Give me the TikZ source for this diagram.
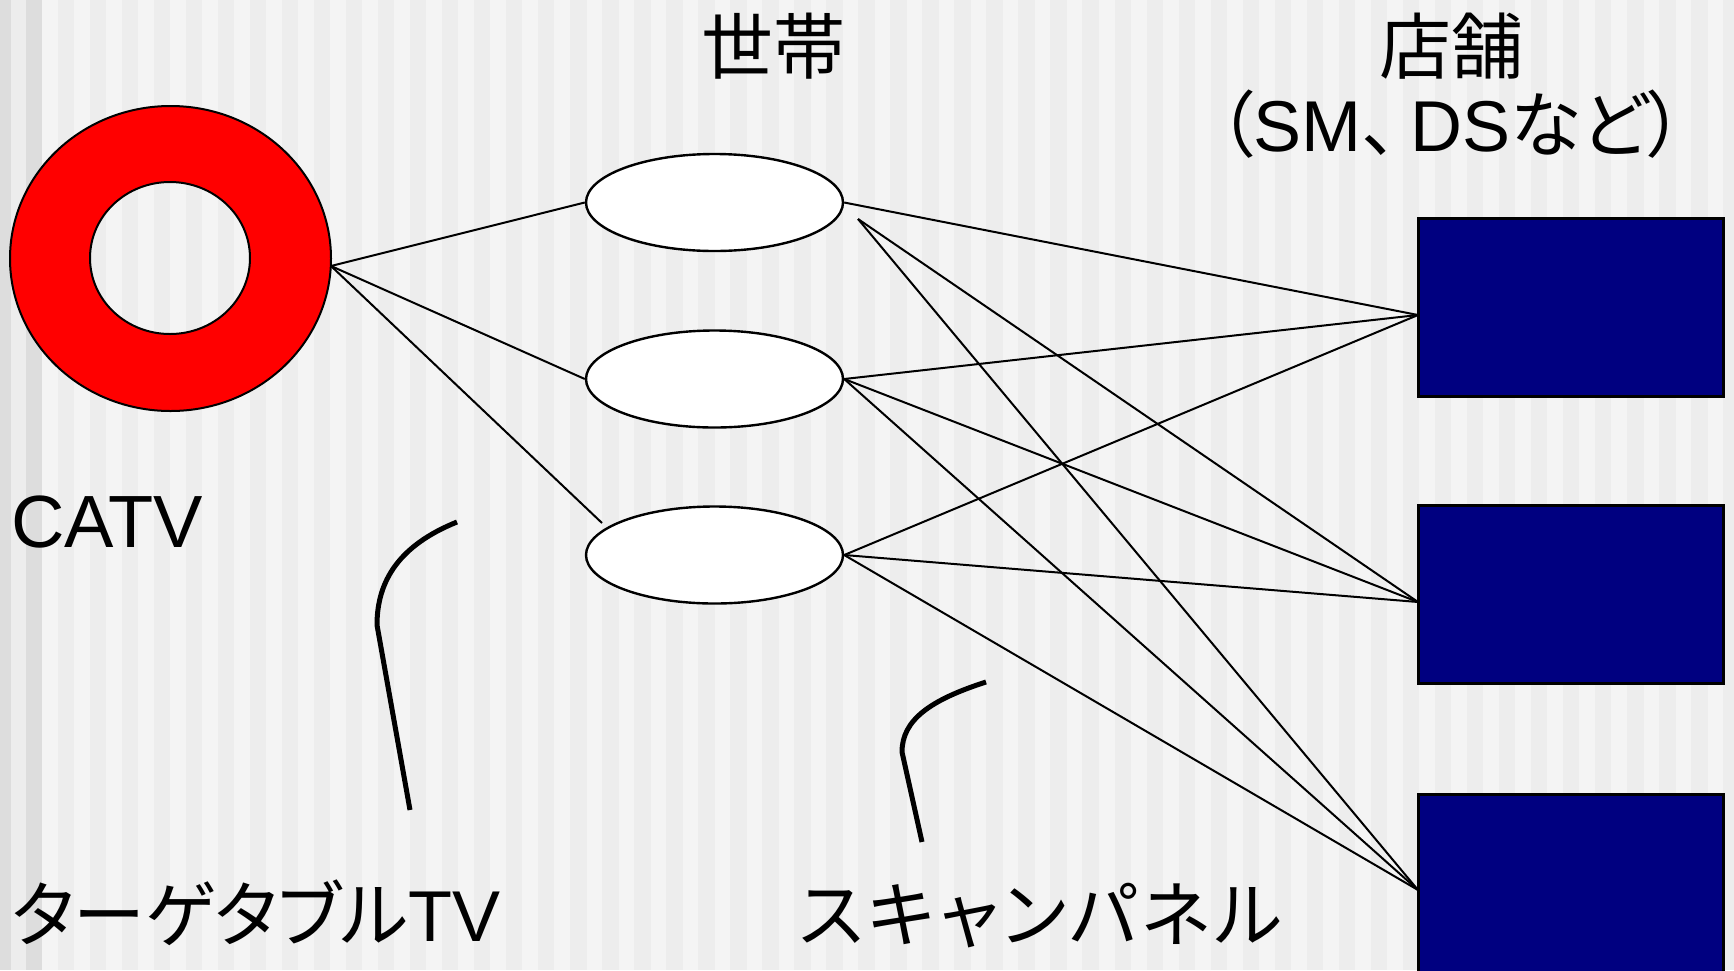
\documentclass[tikz,border=0pt]{standalone}
\usepackage{fontspec}
\setmainfont{Liberation Sans}
\newfontfamily\jp[RawFeature=+palt]{Noto Sans CJK JP}
\newfontfamily\jpw[RawFeature=+palt,LetterSpace=5.5]{Noto Sans CJK JP}
\usetikzlibrary{shapes.geometric,calc}
\definecolor{stripeA}{HTML}{F4F4F4}
\definecolor{stripeB}{HTML}{EDEDED}
\definecolor{stripeC}{HTML}{DDDDDD}
\definecolor{navyfill}{HTML}{000080}
\begin{document}
\begin{tikzpicture}[x=0.5pt,y=-0.5pt,
  conn/.style={line width=1pt},
  house/.style={ellipse, draw, line width=1.2pt, fill=white, minimum width=128.5pt, minimum height=48.5pt, inner sep=0pt},
  store/.style={rectangle, draw, line width=1.5pt, fill=navyfill, minimum width=152.5pt, minimum height=89pt, inner sep=0pt},
  callout/.style={line width=2.5pt},
  lbl/.style={inner sep=0pt, font=\fontsize{36pt}{39pt}\selectfont}]
\useasboundingbox (0,0) rectangle (1734,970);
% background stripes
\fill[stripeB] (0,0) rectangle (1734,970);
\foreach \i in {0,...,52} \fill[stripeA] ({42+32.03*\i},0) rectangle ({57.5+32.03*\i},970);
\fill[stripeC] (0,0) rectangle (11,970);
\fill[stripeC] (26,0) rectangle (42,970);
% CATV donut
\path[fill=red, draw, line width=1pt, even odd rule]
  (170.5,258.5) ellipse [x radius=160.5, y radius=152.5]
  (170,258) ellipse [x radius=80, y radius=76];
\coordinate (catv) at (331,266);
% households
\node[house] (e1) at (714.5,202.5) {};
\node[house] (e2) at (714.5,379) {};
\node[house] (e3) at (714.5,555) {};
% stores
\node[store] (r1) at (1570.5,307) {};
\node[store] (r2) at (1570.5,594.5) {};
\node[store] (r3) at (1570.5,883) {};
\coordinate (r1p) at (1418,315);
\coordinate (r2p) at (1418,602);
\coordinate (r3p) at (1418,890);
\coordinate (p1) at (858,219);
\coordinate (p2) at (602,523);
% connectors
\draw[conn] (catv) -- (e1.west);
\draw[conn] (catv) -- (e2.west);
\draw[conn] (catv) -- (p2);
\draw[conn] (e1.east) -- (r1p);
\draw[conn] (p1) -- (r2p);
\draw[conn] (p1) -- (r3p);
\draw[conn] (e2.east) -- (r1p);
\draw[conn] (e2.east) -- (r2p);
\draw[conn] (e2.east) -- (r3p);
\draw[conn] (e3.east) -- (r1p);
\draw[conn] (e3.east) -- (r2p);
\draw[conn] (e3.east) -- (r3p);
% callout curves
\draw[callout] (457,522) .. controls (400,545) and (377,580) .. (377,625) -- (410,810);
\draw[callout] (986,682) .. controls (930,700) and (902,720) .. (902,752) -- (922,842);
% labels
\node[lbl, anchor=base] (t1) at (773,73) {\jp 世帯};
\node[lbl, anchor=base, align=center] (t2) at (1451,151)
  {\jp 店舗\\{\jp （}SM{\jp 、}\hspace{6.5pt}DS{\jp など）}};
\node[lbl, anchor=base west, font=\fontsize{37pt}{40pt}\selectfont] (t4) at (11,547) {CATV};
\node[lbl, anchor=base west] (t5) at (11,941) {{\jp ターゲタブル}TV};
\node[lbl, anchor=base west] (t6) at (799,941) {\jpw スキャンパネル};
\end{tikzpicture}
\end{document}
